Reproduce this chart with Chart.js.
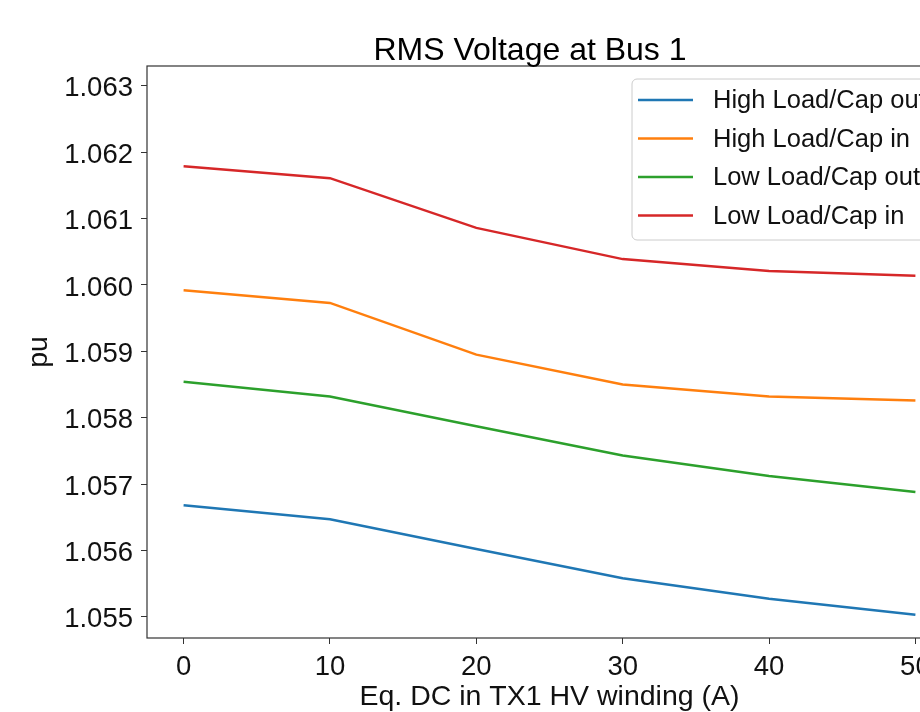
<!DOCTYPE html>
<html>
<head>
<meta charset="utf-8">
<script src="https://cdn.jsdelivr.net/npm/chart.js@4.4.0/dist/chart.umd.min.js"></script>
<style>
    html, body { margin: 0; padding: 0; background: #fff; overflow: hidden; }
    #wrap { width: 1060px; height: 712px; }
</style>
</head>
<body>
<div id="wrap"><canvas id="busChart" width="1060" height="712"></canvas></div>
<script>
// Eq. DC in the HV winding (A)
const currents = [0, 10, 20, 30, 40, 50];

// RMS voltage (pu) for each case
const highLoadCapOut = [1.05668, 1.05647, 1.05602, 1.05558, 1.05527, 1.05503];
const highLoadCapIn  = [1.05992, 1.05973, 1.05895, 1.05850, 1.05832, 1.05826];
const lowLoadCapOut  = [1.05854, 1.05832, 1.05787, 1.05743, 1.05712, 1.05688];
const lowLoadCapIn   = [1.06179, 1.06161, 1.06086, 1.06039, 1.06021, 1.06014];

const seriesLabels = ['High Load/Cap out', 'High Load/Cap in', 'Low Load/Cap out', 'Low Load/Cap in'];
const seriesColors = ['#1f77b4', '#ff7f0e', '#2ca02c', '#d62728'];

const xTicks = [0, 10, 20, 30, 40, 50];
const yTicks = [1.055, 1.056, 1.057, 1.058, 1.059, 1.060, 1.061, 1.062, 1.063];

const FONT = '"Liberation Sans", Arial, sans-serif';

function toPoints(values) {
    return currents.map((c, i) => ({ x: c, y: values[i] }));
}

// title drawn centred over the original figure
const titlePlugin = {
    id: 'titlePlugin',
    afterDraw(chart) {
        const ctx = chart.ctx;
        ctx.save();
        ctx.font = '32px ' + FONT;
        ctx.fillStyle = '#000';
        ctx.textAlign = 'center';
        ctx.textBaseline = 'alphabetic';
        ctx.fillText('RMS Voltage at Bus 1', 530, 60);
        ctx.restore();
    }
};

// box around the plot area
const framePlugin = {
    id: 'framePlugin',
    afterDatasetsDraw(chart) {
        const { ctx, chartArea: { left, top, right, bottom } } = chart;
        ctx.save();
        ctx.strokeStyle = '#333';
        ctx.lineWidth = 1.2;
        ctx.strokeRect(left, top, right - left, bottom - top);
        ctx.restore();
    }
};

// matplotlib style legend in the upper right corner
const legendPlugin = {
    id: 'legendPlugin',
    afterDraw(chart) {
        const ctx = chart.ctx;
        const x0 = 632, y0 = 79, w = 304, h = 161, r = 5;
        ctx.save();
        ctx.beginPath();
        ctx.roundRect(x0, y0, w, h, r);
        ctx.fillStyle = 'rgba(255,255,255,0.8)';
        ctx.fill();
        ctx.strokeStyle = '#cccccc';
        ctx.lineWidth = 1;
        ctx.stroke();

        ctx.font = '25.5px ' + FONT;
        ctx.textBaseline = 'middle';
        ctx.textAlign = 'left';
        chart.data.datasets.forEach((ds, i) => {
            const y = 100 + i * 38.5;
            ctx.strokeStyle = ds.borderColor;
            ctx.lineWidth = 2.5;
            ctx.beginPath();
            ctx.moveTo(638, y);
            ctx.lineTo(693, y);
            ctx.stroke();
            ctx.fillStyle = '#111';
            ctx.fillText(ds.label, 713, y + 1);
        });
        ctx.restore();
    }
};

const allSeries = [highLoadCapOut, highLoadCapIn, lowLoadCapOut, lowLoadCapIn];

new Chart(document.getElementById('busChart'), {
    type: 'line',
    data: {
        datasets: allSeries.map((vals, i) => ({
            label: seriesLabels[i],
            data: toPoints(vals),
            borderColor: seriesColors[i],
            backgroundColor: seriesColors[i],
            borderWidth: 2.5,
            pointRadius: 0,
            tension: 0,
            fill: false
        }))
    },
    options: {
        responsive: false,
        animation: false,
        layout: { padding: { top: 66, right: 108, bottom: 0, left: 0 } },
        plugins: {
            legend: { display: false },
            title: { display: false },
            tooltip: { enabled: false }
        },
        scales: {
            x: {
                type: 'linear',
                min: -2.5,
                max: 52.5,
                afterBuildTicks: (scale) => { scale.ticks = xTicks.map(v => ({ value: v })); },
                afterFit: (scale) => { scale.height = 74; },
                grid: { display: true, drawOnChartArea: false, drawTicks: true, tickLength: 6, color: '#333' },
                border: { display: false },
                ticks: {
                    color: '#111',
                    font: { family: FONT, size: 27.5 },
                    padding: 7,
                    maxRotation: 0,
                    callback: (v) => String(v)
                },
                title: {
                    display: true,
                    text: 'Eq. DC in TX1 HV winding (A)',
                    color: '#111',
                    font: { family: FONT, size: 28.5, lineHeight: 1 },
                    padding: { top: 0, bottom: 1 }
                }
            },
            y: {
                min: 1.05468,
                max: 1.0633,
                afterBuildTicks: (scale) => { scale.ticks = yTicks.map(v => ({ value: v })); },
                afterFit: (scale) => { scale.width = 147; },
                grid: { display: true, drawOnChartArea: false, drawTicks: true, tickLength: 6, color: '#333' },
                border: { display: false },
                ticks: {
                    color: '#111',
                    font: { family: FONT, size: 27.5 },
                    padding: 8,
                    labelOffset: 3,
                    callback: (v) => v.toFixed(3)
                },
                title: {
                    display: true,
                    text: 'pu',
                    color: '#111',
                    font: { family: FONT, size: 28.5, lineHeight: 1 },
                    padding: { top: 25, bottom: 0 }
                }
            }
        }
    },
    plugins: [framePlugin, legendPlugin, titlePlugin]
});
</script>
</body>
</html>
